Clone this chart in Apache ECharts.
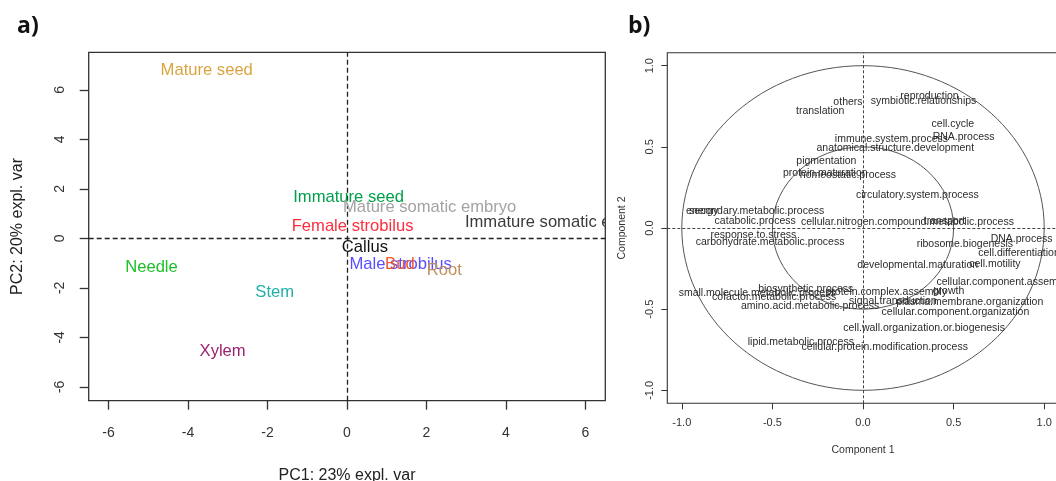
<!DOCTYPE html>
<html><head><meta charset="utf-8">
<script src="https://cdn.jsdelivr.net/npm/echarts@6/dist/echarts.min.js"></script>
<style>html,body{margin:0;padding:0;background:#fff}#c{width:1056px;height:481px}</style>
</head><body><div id="c"></div>
<script>
// ---- Panel a: sample PCA ----
const sampleNames = ['Mature seed','Immature seed','Mature somatic embryo','Immature somatic embryo','Female strobilus','Callus','Male strobilus','Bud','Root','Needle','Stem','Xylem'];
const samplePC1 = [-3.53, 0.04, 2.08, 5.38, 0.14, 0.45, 1.35, 1.33, 2.45, -4.92, -1.82, -3.13];
const samplePC2 = [6.80, 1.64, 1.24, 0.65, 0.47, -0.36, -1.04, -1.04, -1.28, -1.17, -2.18, -4.58];
const sampleColors = ['#D9A441','#00A04A','#A3A3A3','#3A3A3A','#FF2D3D','#111111','#5B4DFF','#EE5A2A','#BF9060','#1DBF2A','#22AFA8','#9B2270'];
const pcTicks = [-6, -4, -2, 0, 2, 4, 6];

// ---- Panel b: correlation circle ----
const goTerms = ['reproduction','symbiotic.relationships','others','translation','cell.cycle','RNA.process','immune.system.process','anatomical.structure.development','pigmentation','protein.maturation','homeostatic.process','circulatory.system.process','energy','secondary.metabolic.process','catabolic.process','cellular.nitrogen.compound.metabolic.process','transport','response.to.stress','carbohydrate.metabolic.process','ribosome.biogenesis','DNA.process','cell.differentiation','cell.motility','developmental.maturation','cellular.component.assembly','growth','protein.complex.assembly','biosynthetic.process','small.molecule.metabolic.process','cofactor.metabolic.process','signal.transduction','plasma.membrane.organization','amino.acid.metabolic.process','cellular.component.organization','cell.wall.organization.or.biogenesis','lipid.metabolic.process','cellular.protein.modification.process'];
const comp1 = [0.367, 0.334, -0.083, -0.236, 0.496, 0.555, 0.157, 0.178, -0.202, -0.208, -0.083, 0.300, -0.888, -0.587, -0.595, 0.245, 0.450, -0.605, -0.513, 0.562, 0.875, 0.861, 0.728, 0.302, 0.777, 0.472, 0.128, -0.316, -0.584, -0.490, 0.165, 0.589, -0.292, 0.510, 0.337, -0.343, 0.120];
const comp2 = [0.812, 0.779, 0.773, 0.722, 0.640, 0.560, 0.548, 0.492, 0.412, 0.338, 0.328, 0.203, 0.104, 0.102, 0.043, 0.036, 0.043, -0.043, -0.088, -0.097, -0.067, -0.156, -0.220, -0.231, -0.332, -0.390, -0.396, -0.376, -0.402, -0.425, -0.450, -0.456, -0.484, -0.519, -0.614, -0.706, -0.732];
const compTicks = [-1, -0.5, 0, 0.5, 1];
const circleRadii = [1, 0.5];

const FONT = '"Liberation Sans", Arial, Helvetica, sans-serif';
const chart = echarts.init(document.getElementById('c'), null, {renderer: 'canvas'});

function textSeries(names, xs, ys, colors, size, xi, clip) {
  return {
    type: 'custom', xAxisIndex: xi, yAxisIndex: xi, clip: clip, silent: true, z: 5,
    data: xs.map((x, i) => [x, ys[i]]),
    encode: {x: 0, y: 1},
    renderItem: function (params, api) {
      const i = params.dataIndex;
      const p = api.coord([api.value(0), api.value(1)]);
      return {type: 'text', x: p[0], y: p[1], style: {
        text: names[i], fill: Array.isArray(colors) ? colors[i] : colors,
        fontSize: size, fontFamily: FONT, align: 'center', verticalAlign: 'middle'}};
    }
  };
}

const option = {
  animation: false,
  backgroundColor: '#fff',
  graphic: [
    {type: 'text', left: 17, top: 15, style: {text: 'a)', fontSize: 23, fontWeight: 'bold', fontFamily: '"Open Sans", "Liberation Sans", sans-serif', fill: '#111'}},
    {type: 'text', left: 628, top: 15, style: {text: 'b)', fontSize: 23, fontWeight: 'bold', fontFamily: '"Open Sans", "Liberation Sans", sans-serif', fill: '#111'}}
  ],
  grid: [
    {left: 88.7, top: 52.3, width: 516.6, height: 348.4, show: true, borderColor: '#333', borderWidth: 1.3, backgroundColor: 'transparent', containLabel: false, outerBoundsMode: 'none'},
    {left: 667.3, top: 52.7, width: 391.4, height: 350.6, show: true, borderColor: '#333', borderWidth: 1.1, backgroundColor: 'transparent', containLabel: false, outerBoundsMode: 'none'}
  ],
  xAxis: [
    {gridIndex: 0, type: 'value', min: -6.5, max: 6.5, splitLine: {show: false},
     axisLine: {show: false, onZero: false},
     axisTick: {show: true, length: 9, customValues: pcTicks, lineStyle: {color: '#333', width: 1.3}},
     axisLabel: {customValues: pcTicks, margin: 25, fontSize: 14, fontFamily: FONT, color: '#333', formatter: v => String(v)},
     name: 'PC1: 23% expl. var', nameLocation: 'middle', nameGap: 67,
     nameTextStyle: {fontSize: 16, fontFamily: FONT, color: '#222'}},
    {gridIndex: 1, type: 'value', min: -1.08, max: 1.08, splitLine: {show: false},
     axisLine: {show: false, onZero: false},
     axisTick: {show: true, length: 6, customValues: compTicks, lineStyle: {color: '#333', width: 1}},
     axisLabel: {customValues: compTicks, margin: 14, fontSize: 11, fontFamily: FONT, color: '#333', formatter: v => v.toFixed(1)},
     name: 'Component 1', nameLocation: 'middle', nameGap: 41,
     nameTextStyle: {fontSize: 10.5, fontFamily: FONT, color: '#333'}}
  ],
  yAxis: [
    {gridIndex: 0, type: 'value', min: -6.56, max: 7.52, splitLine: {show: false},
     axisLine: {show: false, onZero: false},
     axisTick: {show: true, length: 9, customValues: pcTicks, lineStyle: {color: '#333', width: 1.3}},
     axisLabel: {customValues: pcTicks, rotate: 90, margin: 22, fontSize: 14, fontFamily: FONT, color: '#333', formatter: v => String(v)},
     name: 'PC2: 20% expl. var', nameLocation: 'middle', nameGap: 63, nameRotate: 90,
     nameTextStyle: {fontSize: 16, fontFamily: FONT, color: '#222'}},
    {gridIndex: 1, type: 'value', min: -1.08, max: 1.08, splitLine: {show: false},
     axisLine: {show: false, onZero: false},
     axisTick: {show: true, length: 6, customValues: compTicks, lineStyle: {color: '#333', width: 1}},
     axisLabel: {customValues: compTicks, rotate: 90, margin: 12, fontSize: 11, fontFamily: FONT, color: '#333', formatter: v => v.toFixed(1)},
     name: 'Component 2', nameLocation: 'middle', nameGap: 40, nameRotate: 90,
     nameTextStyle: {fontSize: 10.5, fontFamily: FONT, color: '#333'}}
  ],
  series: [
    {type: 'line', xAxisIndex: 0, yAxisIndex: 0, data: [], silent: true,
     markLine: {silent: true, symbol: ['none', 'none'], label: {show: false},
       lineStyle: {type: [5, 3], color: '#222', width: 1.3},
       data: [{xAxis: 0}, {yAxis: 0}]}},
    textSeries(sampleNames, samplePC1, samplePC2, sampleColors, 16.6, 0, true),
    {type: 'line', xAxisIndex: 1, yAxisIndex: 1, data: [], silent: true,
     markLine: {silent: true, symbol: ['none', 'none'], label: {show: false},
       lineStyle: {type: [3, 2], color: '#444', width: 1},
       data: [{xAxis: 0}, {yAxis: 0}]}},
    {type: 'custom', xAxisIndex: 1, yAxisIndex: 1, silent: true, z: 3,
     data: circleRadii.map(r => [0, 0, r]),
     encode: {x: 0, y: 1},
     renderItem: function (params, api) {
       const c = api.coord([api.value(0), api.value(1)]);
       const s = api.size([api.value(2), api.value(2)]);
       return {type: 'ellipse', shape: {cx: c[0], cy: c[1], rx: s[0], ry: s[1]},
         style: {fill: 'none', stroke: '#555', lineWidth: 1}};
     }},
    textSeries(goTerms, comp1, comp2, '#2b2b2b', 10.5, 1, false)
  ]
};
chart.setOption(option);
</script></body></html>
